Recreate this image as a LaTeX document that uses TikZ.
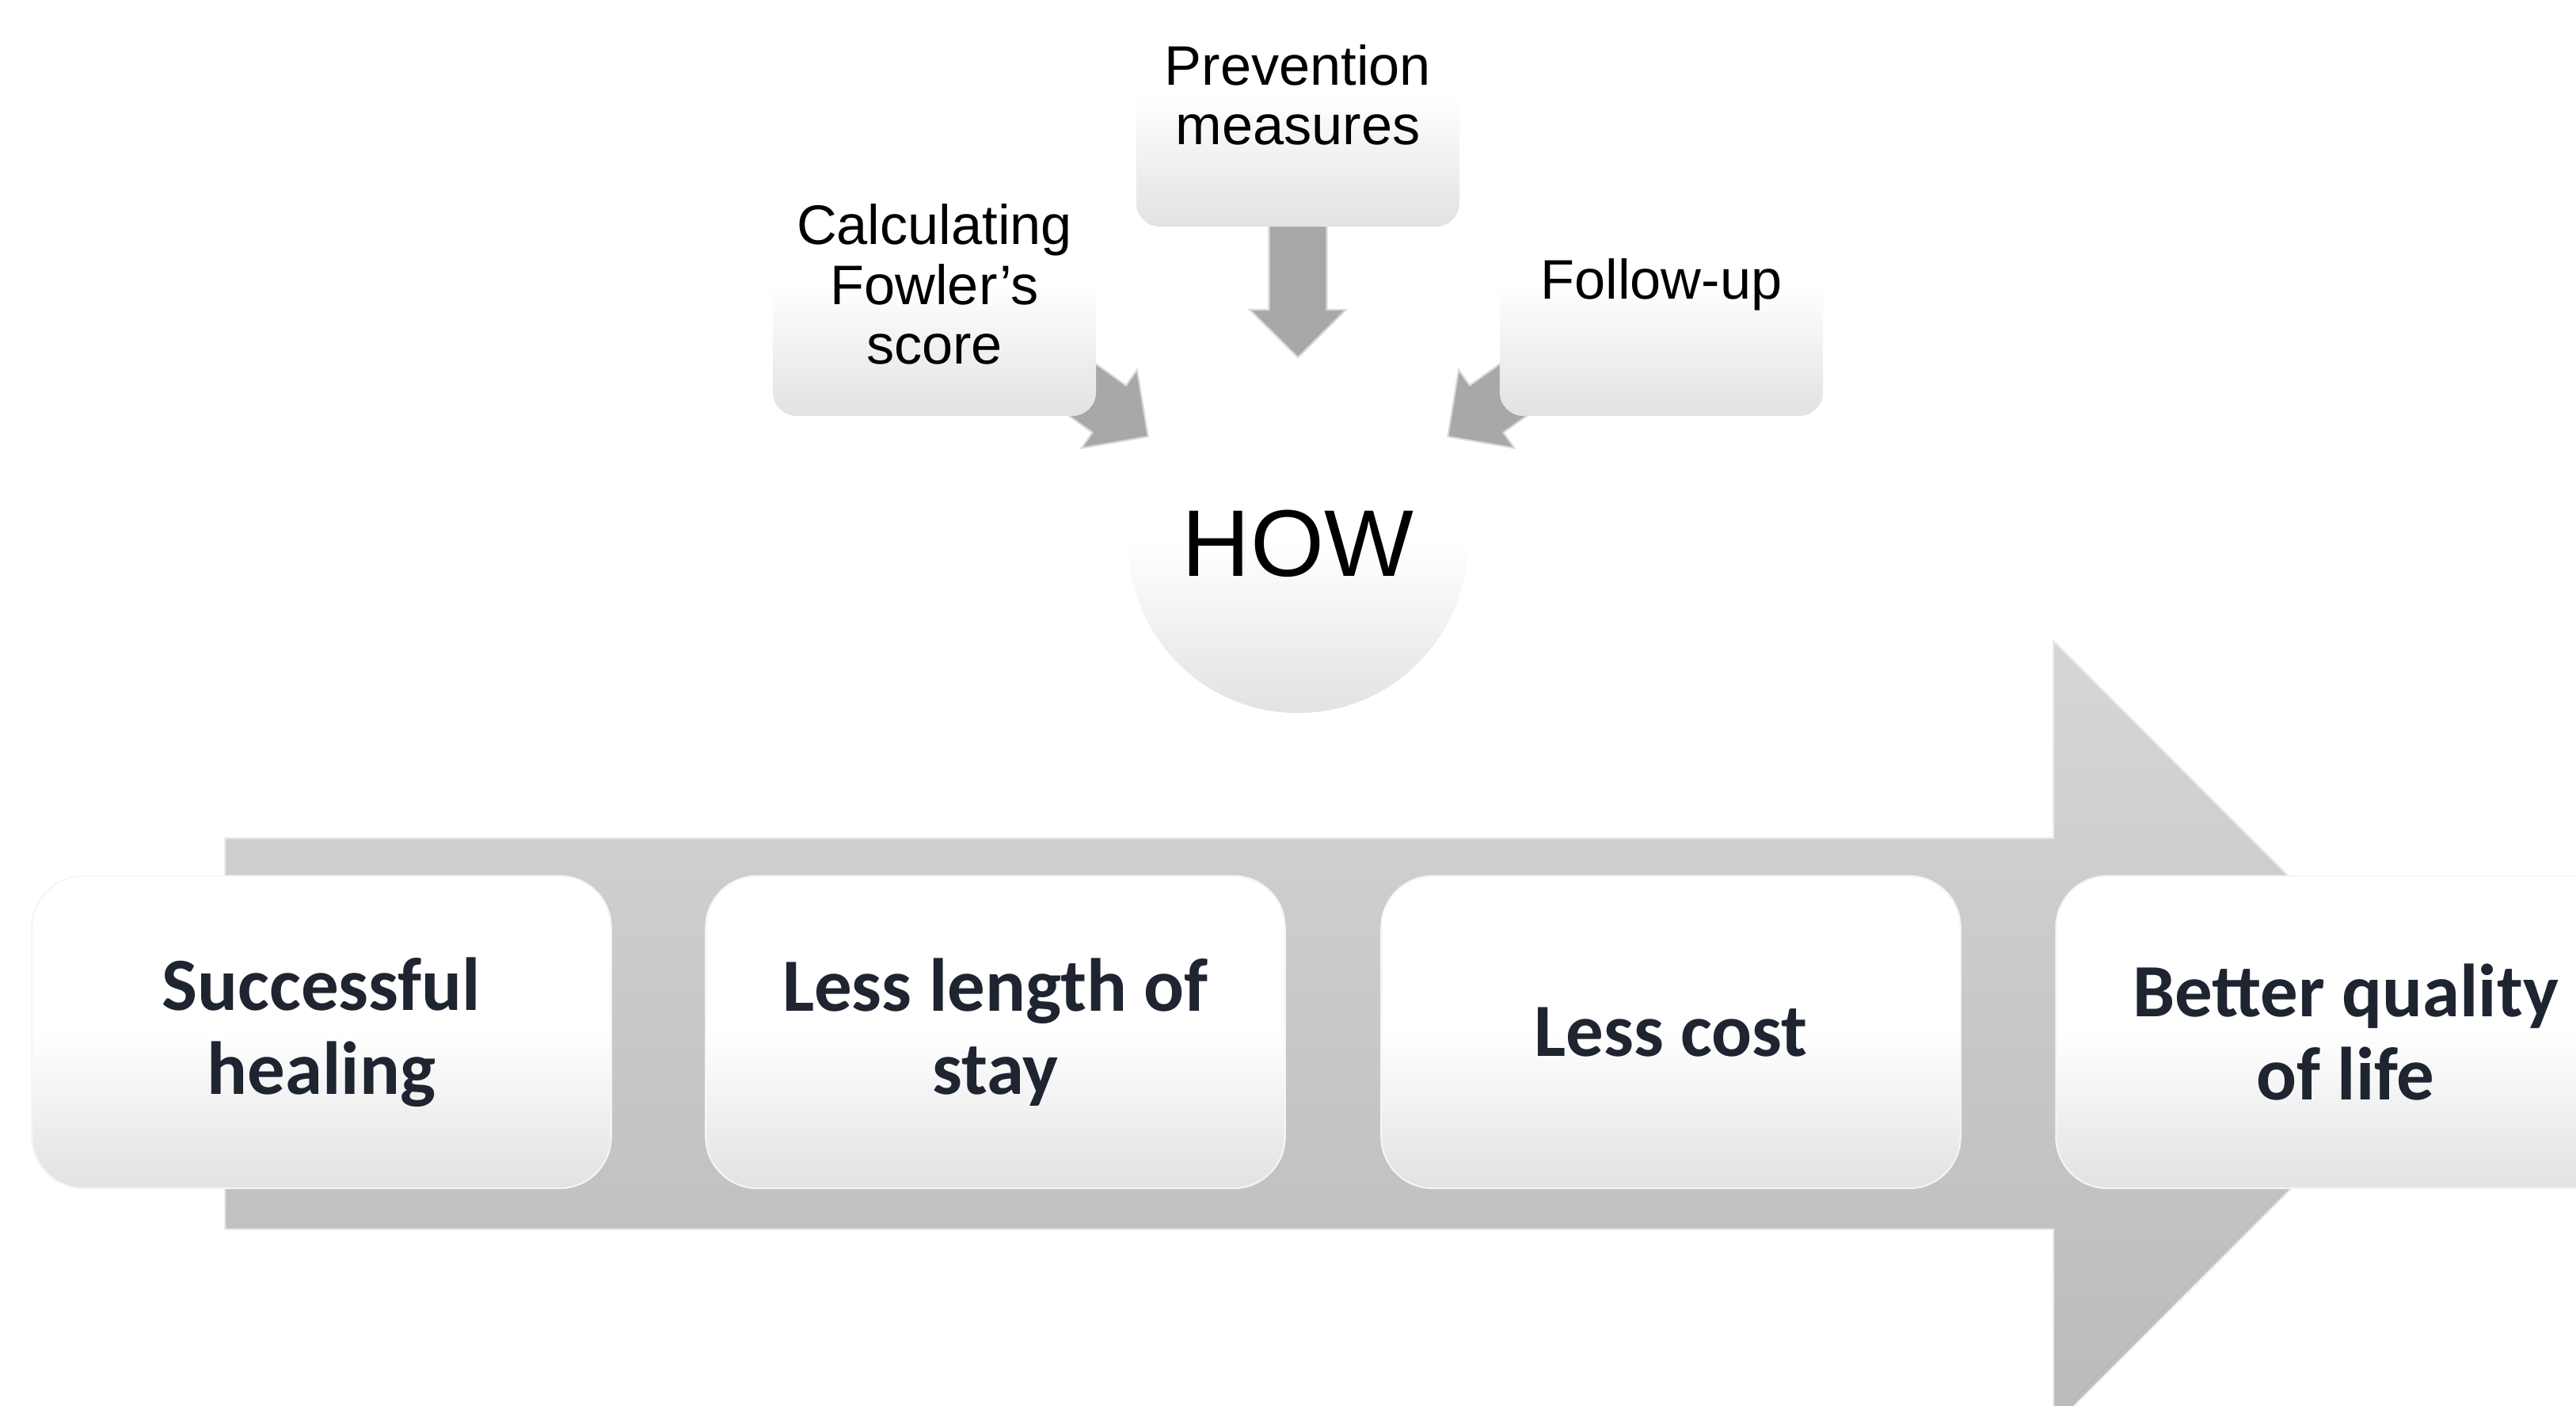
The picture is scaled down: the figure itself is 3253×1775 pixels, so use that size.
\documentclass[tikz,border=0pt]{standalone}
\usepackage{fontspec}
\setmainfont{Liberation Sans}
\newfontfamily\carlito{Carlito}
\usetikzlibrary{calc}
\definecolor{txtdark}{RGB}{30,36,48}
\definecolor{boxgray}{RGB}{226,226,226}
\definecolor{arrtop}{RGB}{213,214,214}
\definecolor{arrbot}{RGB}{186,186,186}
\definecolor{smallarr}{RGB}{168,168,168}
\pgfdeclarelayer{bg}
\pgfsetlayers{bg,main}
\newcommand\convarrow[2]{%
  \coordinate (ca) at ($(#1.center)!1.65cm!(#2.center)$);
  \coordinate (cb) at ($(#1.center)!2.71cm!(#2.center)$);
  \coordinate (ct) at ($(#1.center)!3.31cm!(#2.center)$);
  \filldraw[smallarrow]
    ($(ca)!0.365cm!90:(ct)$) -- ($(cb)!0.365cm!90:(ct)$) --
    ($(cb)!0.605cm!90:(ct)$) -- (ct) --
    ($(cb)!0.605cm!-90:(ct)$) -- ($(cb)!0.365cm!-90:(ct)$) --
    ($(ca)!0.365cm!-90:(ct)$) -- cycle;
}
\begin{document}
\begin{tikzpicture}[x=0.01cm,y=-0.01cm,
  topbox/.style={rectangle, rounded corners=0.3cm, minimum width=4.08cm,
    minimum height=3.32cm, top color=white, bottom color=boxgray,
    middle color=white, align=center,
    inner sep=0pt, font=\fontsize{20}{21.5}\selectfont},
  hubcircle/.style={circle, minimum size=4.28cm, inner sep=0pt,
    top color=white, bottom color=boxgray, middle color=white,
    font=\fontsize{34}{36}\selectfont},
  stepbox/.style={rectangle, rounded corners=0.65cm, minimum width=7.31cm,
    minimum height=3.94cm, top color=white, bottom color=boxgray,
    middle color=white, draw=black!4, line width=0.6pt, align=center,
    inner sep=0pt, text=txtdark,
    font=\carlito\bfseries\fontsize{27}{30}\selectfont},
  bigarrow/.style={top color=arrtop, bottom color=arrbot, draw=black!8,
    line width=0.6pt},
  smallarrow/.style={fill=smallarr, draw=black!15, line width=0.6pt}
]
\useasboundingbox (0,0) rectangle (3253,1775);
\clip (0,0) rectangle (3253,1775);

% big background arrow
\path[bigarrow] (284,1058) -- (2593,1058) -- (2593,809) -- (3089,1305)
  -- (2593,1801) -- (2593,1552) -- (284,1552) -- cycle;

% top converging part
\node[topbox] (prev) at (1639,120) {Prevention\\measures};
\node[topbox] (fowl) at (1180,359) {Calculating\\Fowler’s\\score};
\node[topbox] (foll) at (2098,359) {Follow-up};
\node[hubcircle] (how) at (1639,686) {HOW};

\begin{pgfonlayer}{bg}
  \convarrow{prev}{how}
  \convarrow{fowl}{how}
  \convarrow{foll}{how}
\end{pgfonlayer}

% bottom steps
\node[stepbox] (s1) at (406,1303) {Successful\\healing};
\node[stepbox] (s2) at (1257,1303) {Less length of\\stay};
\node[stepbox] (s3) at (2110,1303) {Less cost};
\node[stepbox] (s4) at (2962,1303) {Better quality\\of life};
\end{tikzpicture}
\end{document}
